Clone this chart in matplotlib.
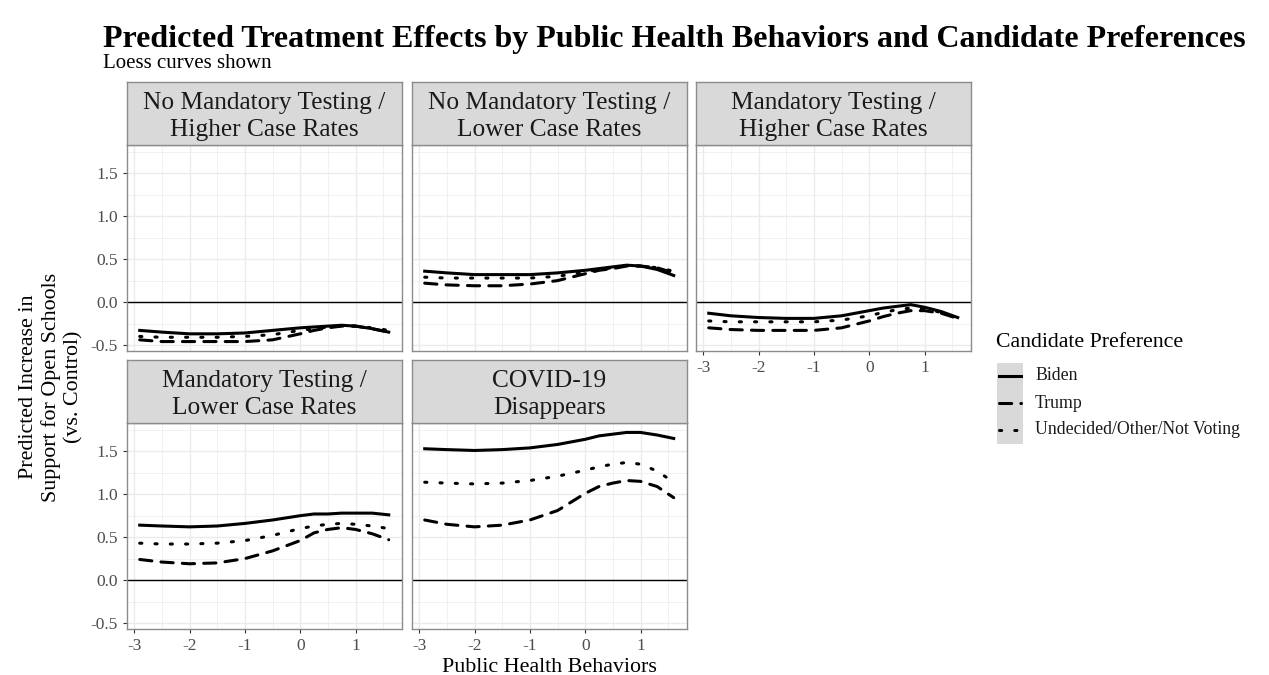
import matplotlib.pyplot as plt
from matplotlib.patches import Rectangle
from matplotlib.lines import Line2D
import numpy as np

plt.rcParams['font.family'] = ['Liberation Serif', 'DejaVu Serif']

# values (loess curves)
x = [-2.9, -2.5, -2.0, -1.5, -1.0, -0.5, 0.0, 0.25, 0.5, 0.75, 1.0, 1.3, 1.6]

panels = ["No Mandatory Testing /\nHigher Case Rates",
          "No Mandatory Testing /\nLower Case Rates",
          "Mandatory Testing /\nHigher Case Rates",
          "Mandatory Testing /\nLower Case Rates",
          "COVID-19\nDisappears"]

biden = [
    [-0.33, -0.35, -0.37, -0.37, -0.36, -0.33, -0.30, -0.29, -0.28, -0.27, -0.28, -0.31, -0.35],
    [0.36, 0.34, 0.32, 0.32, 0.32, 0.34, 0.37, 0.39, 0.41, 0.43, 0.42, 0.38, 0.31],
    [-0.13, -0.16, -0.18, -0.19, -0.19, -0.16, -0.10, -0.07, -0.05, -0.03, -0.06, -0.11, -0.18],
    [0.64, 0.63, 0.62, 0.63, 0.66, 0.70, 0.75, 0.77, 0.77, 0.78, 0.78, 0.78, 0.76],
    [1.53, 1.52, 1.51, 1.52, 1.54, 1.58, 1.64, 1.68, 1.70, 1.72, 1.72, 1.69, 1.65],
]
trump = [
    [-0.44, -0.46, -0.46, -0.46, -0.46, -0.44, -0.37, -0.33, -0.30, -0.28, -0.28, -0.31, -0.35],
    [0.22, 0.20, 0.19, 0.19, 0.21, 0.25, 0.33, 0.37, 0.39, 0.42, 0.42, 0.40, 0.34],
    [-0.30, -0.32, -0.33, -0.33, -0.33, -0.30, -0.22, -0.17, -0.13, -0.10, -0.10, -0.13, -0.19],
    [0.24, 0.21, 0.19, 0.20, 0.25, 0.34, 0.46, 0.55, 0.59, 0.61, 0.59, 0.54, 0.47],
    [0.70, 0.65, 0.62, 0.64, 0.70, 0.81, 1.01, 1.09, 1.13, 1.16, 1.15, 1.09, 0.96],
]
undecided = [
    [-0.40, -0.41, -0.41, -0.41, -0.40, -0.38, -0.33, -0.31, -0.29, -0.28, -0.28, -0.30, -0.33],
    [0.29, 0.28, 0.28, 0.28, 0.28, 0.30, 0.35, 0.38, 0.40, 0.42, 0.42, 0.40, 0.36],
    [-0.22, -0.23, -0.23, -0.23, -0.23, -0.21, -0.16, -0.12, -0.09, -0.07, -0.08, -0.12, -0.19],
    [0.43, 0.42, 0.42, 0.43, 0.46, 0.52, 0.60, 0.63, 0.65, 0.66, 0.65, 0.63, 0.60],
    [1.14, 1.13, 1.12, 1.13, 1.16, 1.21, 1.28, 1.32, 1.35, 1.37, 1.35, 1.27, 1.14],
]

series = ["Biden", "Trump", "Undecided/Other/Not Voting"]
styles = {"Biden": "-", "Trump": (0, (4.0, 3.0)), "Undecided/Other/Not Voting": (0, (0.7, 4.3))}

W, H = 1269, 675
fig = plt.figure(figsize=(W / 100, H / 100), dpi=100)

def box(l, t, w, h):
    return [l / W, 1 - (t + h) / H, w / W, h / H]

lefts = [127, 412, 696]
tops = [145, 423]
pw, ph, sh = 275, 206, 63
tick_col = '#4D4D4D'

for i, name in enumerate(panels):
    r, c = divmod(i, 3)
    ax = fig.add_axes(box(lefts[c], tops[r], pw, ph))
    ax.set_xlim(-3.13, 1.84)
    ax.set_ylim(-0.57, 1.83)
    ax.set_xticks([-3, -2, -1, 0, 1])
    ax.set_xticks([-2.5, -1.5, -0.5, 0.5, 1.5], minor=True)
    ax.set_yticks([-0.5, 0.0, 0.5, 1.0, 1.5])
    ax.set_yticks([-0.25, 0.25, 0.75, 1.25, 1.75], minor=True)
    ax.grid(which='major', color='#EBEBEB', lw=1.0)
    ax.grid(which='minor', color='#EBEBEB', lw=0.5)
    ax.set_axisbelow(True)
    for s in ax.spines.values():
        s.set_color('#8C8C8C')
        s.set_linewidth(1.0)
    ax.tick_params(which='minor', length=0)
    ax.tick_params(which='major', length=3, color='#333333', labelsize=12.5, labelcolor=tick_col)
    ax.yaxis.set_major_formatter(plt.FuncFormatter(lambda v, p: f"{v:.1f}"))
    ax.xaxis.set_major_formatter(plt.FuncFormatter(lambda v, p: f"{v:.0f}"))
    if c != 0:
        ax.tick_params(axis='y', labelleft=False, left=False)
    if i in (0, 1):
        ax.tick_params(axis='x', labelbottom=False, bottom=False)
    ax.axhline(0, color='black', lw=1.0, zorder=2)
    for name_s, vals in zip(series, [biden, trump, undecided]):
        ax.plot(x, vals[i], color='black', lw=2.2, ls=styles[name_s],
                dash_capstyle='round', zorder=3)
    # strip
    sax = fig.add_axes(box(lefts[c], tops[r] - sh, pw, sh))
    sax.set_facecolor('#D9D9D9')
    sax.set_xticks([])
    sax.set_yticks([])
    for s in sax.spines.values():
        s.set_color('#8C8C8C')
        s.set_linewidth(1.0)
    sax.text(0.5, 0.45, name, ha='center', va='center', fontsize=18.3,
             color='#1A1A1A', linespacing=1.3, transform=sax.transAxes)

fig.text(103 / W, 1 - 40 / H, "Predicted Treatment Effects by Public Health Behaviors and Candidate Preferences",
         fontsize=23, fontweight='bold', ha='left', va='center')
fig.text(103 / W, 1 - 64 / H, "Loess curves shown", fontsize=15, ha='left', va='center')
fig.text(549 / W, 1 - 667 / H, "Public Health Behaviors", fontsize=15.8, ha='center', va='center')
fig.text(51 / W, 1 - 387 / H, "Predicted Increase in\nSupport for Open Schools\n(vs. Control)",
         fontsize=15.8, ha='center', va='center', rotation=90, linespacing=1.2)

# legend
fig.text(996 / W, 1 - 342 / H, "Candidate Preference", fontsize=15.7, ha='left', va='center')
lax = fig.add_axes([0, 0, 1, 1], facecolor='none')
lax.set_xlim(0, W)
lax.set_ylim(H, 0)
lax.axis('off')
ys = [376, 403, 430]
for yk, name_s in zip(ys, series):
    lax.add_patch(Rectangle((997, yk - 13.5), 26, 27, color='#D9D9D9', lw=0))
    lax.add_line(Line2D([999, 1021], [yk, yk], color='black', lw=2.2, ls=styles[name_s],
                        dash_capstyle='round'))
    lax.text(1035, yk, name_s, fontsize=12.75, ha='left', va='center', color='#1A1A1A')

fig.savefig("out.png", dpi=100)
